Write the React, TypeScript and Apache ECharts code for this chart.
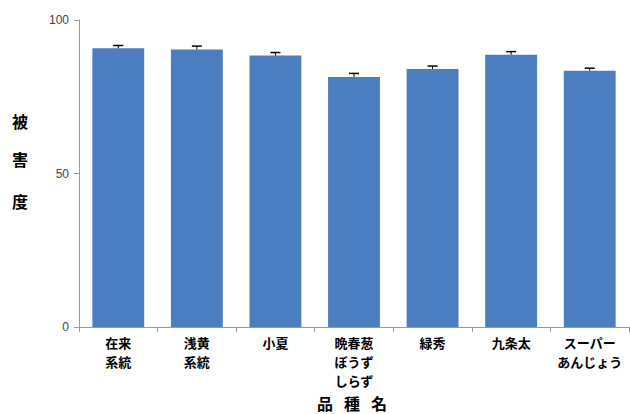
import React, { useEffect, useRef } from "react";
import * as echarts from "echarts";

const categories = ["在来\n系統", "浅黄\n系統", "小夏", "晩春葱\nぼうず\nしらず", "緑秀", "九条太", "スーパー\nあんじょう"];
const values = [90.8, 90.4, 88.4, 81.4, 84.0, 88.7, 83.5];
const errors = [0.9, 1.1, 1.0, 1.2, 1.0, 1.0, 0.8];
const yTicks = [0, 50, 100];
const xAxisTitle = ["品", "種", "名"];
const yAxisTitle = ["被", "害", "度"];

export default function App() {
  const ref = useRef<HTMLDivElement>(null);
  useEffect(() => {
    const chart = echarts.init(ref.current!, null, { renderer: "svg" });
    const font = "'Noto Sans CJK JP', sans-serif";
    const titleStyle = { fontSize: 16, fontWeight: "bold", fontFamily: font, fill: "#000" };
    chart.setOption({
      animation: false,
      grid: { left: 79, right: 1, top: 20, bottom: 87 },
      xAxis: {
        type: "category",
        data: categories,
        axisLine: { lineStyle: { color: "#999" } },
        axisTick: { show: true, length: 5, lineStyle: { color: "#999" } },
        axisLabel: {
          interval: 0,
          color: "#000",
          fontWeight: "bold",
          fontSize: 13,
          fontFamily: font,
          lineHeight: 19,
          margin: 6,
          verticalAlign: "top",
        },
      },
      yAxis: {
        type: "value",
        min: yTicks[0],
        max: yTicks[yTicks.length - 1],
        interval: 50,
        axisLine: { show: true, lineStyle: { color: "#999" } },
        axisTick: { show: true, length: 5, lineStyle: { color: "#999" } },
        splitLine: { show: false },
        axisLabel: { color: "#444", fontSize: 12, fontFamily: "'Liberation Sans', sans-serif", margin: 10 },
      },
      graphic: [
        ...yAxisTitle.map((t, i) => ({ type: "text", left: 12, top: [113, 151, 193][i], style: { text: t, ...titleStyle } })),
        ...xAxisTitle.map((t, i) => ({ type: "text", left: 317 + i * 27, top: 395, style: { text: t, ...titleStyle } })),
      ],
      series: [
        {
          type: "bar",
          data: values,
          barWidth: "66%",
          itemStyle: { color: "#4A7EC0" },
        },
        {
          type: "custom",
          data: values.map((v, i) => [i, v, v + errors[i]]),
          renderItem: (params: any, api: any) => {
            const x = api.value(0);
            const p0 = api.coord([x, api.value(1)]);
            const p1 = api.coord([x, api.value(2)]);
            const hw = 5;
            return {
              type: "group",
              children: [
                { type: "line", shape: { x1: p0[0], y1: p0[1], x2: p1[0], y2: p1[1] }, style: { stroke: "#000", lineWidth: 1 } },
                { type: "line", shape: { x1: p1[0] - hw, y1: p1[1], x2: p1[0] + hw, y2: p1[1] }, style: { stroke: "#000", lineWidth: 1.5 } },
              ],
            };
          },
          z: 10,
        },
      ],
    });
    return () => chart.dispose();
  }, []);
  return <div ref={ref} style={{ width: 630, height: 414, position: "absolute", left: 0, top: 0, background: "#fff" }} />;
}
